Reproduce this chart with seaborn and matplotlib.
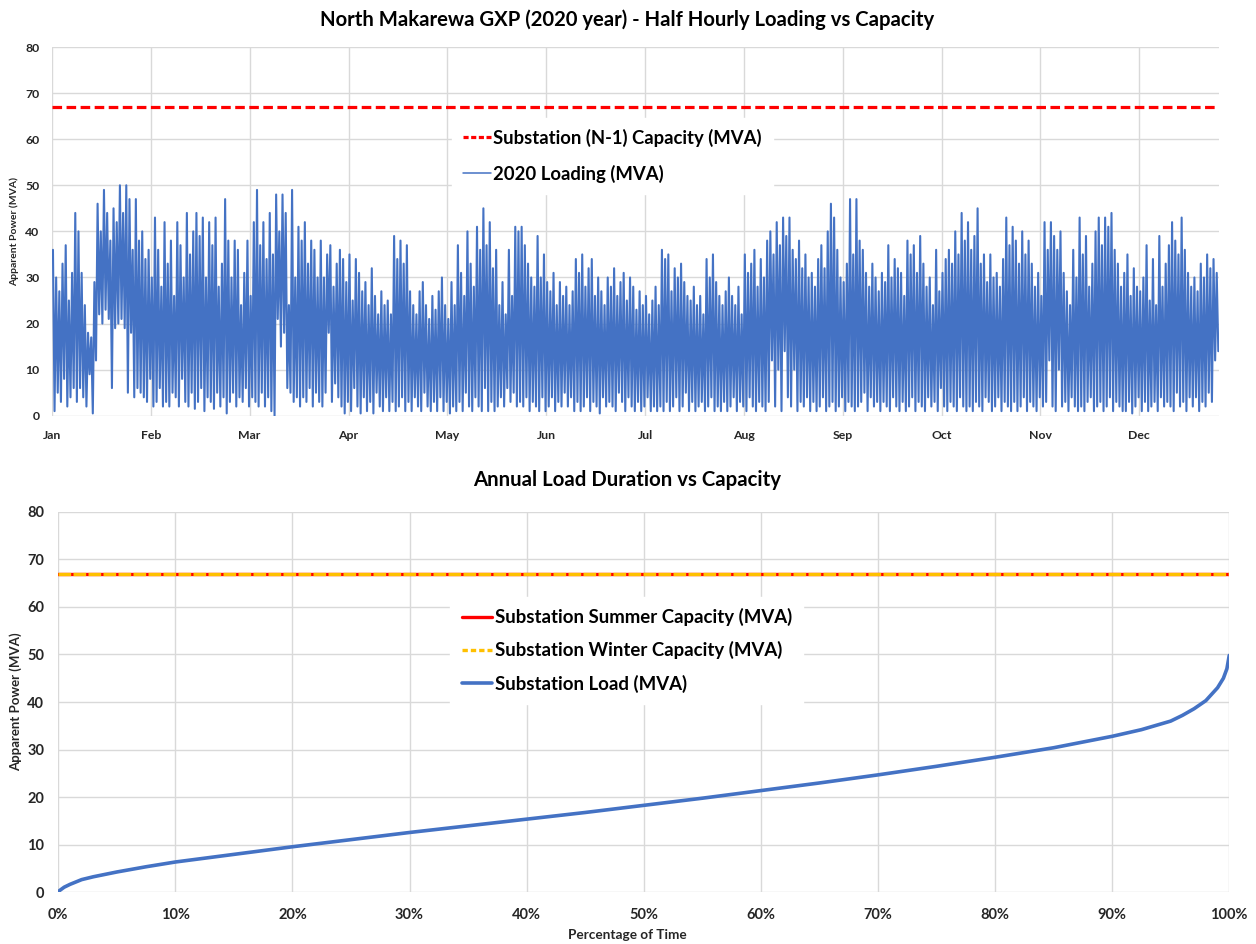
import numpy as np
import pandas as pd
import matplotlib
matplotlib.use("Agg")
import matplotlib.pyplot as plt
import matplotlib.dates as mdates
from matplotlib.ticker import PercentFormatter, MultipleLocator
from matplotlib.lines import Line2D
import seaborn as sns

# ---------------------------------------------------------------- text
TITLE_TOP = "North Makarewa GXP (2020 year) - Half Hourly Loading vs Capacity"
TITLE_BOTTOM = "Annual Load Duration vs Capacity"
Y_LABEL = "Apparent Power (MVA)"
X_LABEL_BOTTOM = "Percentage of Time"
LEG_N1 = "Substation (N-1) Capacity (MVA)"
LEG_LOADING = "2020 Loading (MVA)"
LEG_SUMMER = "Substation Summer Capacity (MVA)"
LEG_WINTER = "Substation Winter Capacity (MVA)"
LEG_LOAD = "Substation Load (MVA)"

# ---------------------------------------------------------------- data
YEAR_START = "2020-01-01"
YEAR_END = "2021-01-01"
N1_CAPACITY = 67.0
SUMMER_CAPACITY = 67.0
WINTER_CAPACITY = 67.0

# daily high (MVA) of the half-hourly loading, one row per week
DAILY_PEAK = [
    36, 30, 27, 33, 37, 25, 31,
    44, 40, 31, 24, 18, 17, 29,
    46, 40, 49, 44, 38, 45, 42,
    50, 44, 50, 47, 36, 47, 38,
    40, 34, 36, 30, 43, 36, 28,
    42, 33, 38, 26, 42, 37, 30,
    44, 35, 40, 44, 39, 43, 30,
    42, 37, 43, 28, 33, 47, 38,
    30, 38, 36, 24, 31, 38, 26,
    42, 49, 37, 42, 34, 44, 35,
    48, 40, 48, 44, 24, 49, 30,
    41, 38, 42, 33, 38, 36, 30,
    38, 30, 35, 37, 28, 33, 36,
    34, 29, 35, 25, 34, 31, 27,
    29, 24, 32, 26, 22, 27, 24,
    25, 22, 39, 34, 38, 33, 37,
    27, 24, 22, 27, 29, 24, 21,
    26, 23, 27, 30, 24, 21, 29,
    24, 37, 31, 26, 40, 33, 28,
    41, 36, 45, 37, 42, 32, 36,
    24, 29, 22, 36, 26, 41, 40,
    41, 37, 33, 30, 28, 39, 30,
    35, 29, 27, 31, 24, 29, 26,
    28, 24, 27, 34, 31, 35, 28,
    32, 34, 26, 30, 27, 24, 30,
    28, 32, 26, 29, 31, 25, 30,
    28, 23, 27, 24, 26, 22, 25,
    28, 24, 36, 34, 35, 27, 32,
    30, 33, 29, 26, 25, 28, 24,
    26, 22, 34, 30, 35, 29, 26,
    24, 27, 30, 26, 24, 28, 22,
    35, 31, 33, 36, 28, 34, 30,
    38, 40, 35, 42, 37, 43, 39,
    43, 36, 34, 38, 32, 35, 30,
    31, 28, 34, 37, 32, 40, 46,
    43, 36, 30, 29, 33, 47, 35,
    47, 38, 36, 31, 28, 33, 30,
    27, 31, 29, 37, 30, 34, 32,
    31, 26, 38, 35, 37, 31, 39,
    33, 28, 30, 24, 36, 27, 31,
    34, 36, 33, 40, 35, 44, 38,
    42, 36, 39, 45, 33, 35, 29,
    35, 30, 31, 28, 34, 43, 37,
    41, 38, 33, 40, 35, 38, 33,
    28, 31, 26, 42, 36, 42, 39,
    36, 40, 31, 27, 24, 36, 30,
    43, 35, 39, 28, 33, 40, 43,
    37, 43, 41, 44, 36, 33, 28,
    31, 35, 26, 32, 28, 27, 30,
    37, 25, 34, 24, 39, 28, 33,
    37, 42, 38, 35, 43, 36, 31,
    28, 30, 27, 33, 30, 35, 32,
    34, 31,
]

# daily low (MVA) of the half-hourly loading, one row per week
DAILY_TROUGH = [
    1, 5, 3, 8, 2, 4, 6,
    3, 6, 4, 2, 9, 0.5, 12,
    22, 20, 23, 21, 6, 19, 20,
    21, 19, 5, 18, 4, 6, 5,
    4, 3, 8, 2, 3, 6, 2,
    3, 2, 5, 4, 2, 8, 3,
    2, 5, 1.5, 3, 6, 1, 4,
    3, 1.5, 5, 2, 4, 0.5, 3,
    5, 2, 4, 3, 6, 2, 4,
    3, 2, 5, 2, 4, 1, 0,
    21, 15, 18, 6, 5, 3, 4,
    2, 4, 3, 6, 2, 5, 3,
    2, 5, 18, 3, 7, 4, 2,
    0.5, 3, 1, 6, 2, 0.5, 4,
    1, 3, 0.5, 5, 2, 1, 4,
    1, 3, 1, 2, 4, 1, 3,
    1, 4, 2, 1, 5, 2, 1,
    3, 1, 4, 1, 3, 0.5, 2,
    1, 3, 1, 5, 2, 1, 4,
    2, 1, 6, 1, 3, 1, 2,
    4, 2, 6, 3, 5, 2, 3,
    2, 4, 1, 3, 2, 1, 4,
    1, 2, 4, 1, 3, 2, 5,
    2, 4, 1, 3, 1, 2, 4,
    1, 3, 2, 0.5, 4, 2, 3,
    2, 1, 5, 3, 1, 4, 2,
    1, 3, 1, 2, 4, 1, 2,
    1, 2, 1, 3, 1, 2, 4,
    1, 2, 5, 1, 3, 1, 2,
    3, 1, 2, 4, 1, 2, 1,
    3, 1, 2, 4, 1, 3, 2,
    1, 4, 2, 1, 3, 2, 1,
    3, 12, 2, 10, 1, 14, 4,
    2, 10, 1, 3, 2, 4, 1,
    3, 1, 2, 4, 1, 2, 3,
    1, 2, 4, 1, 3, 2, 1,
    2, 3, 5, 1, 4, 2, 3,
    1, 3, 2, 1, 4, 2, 1,
    3, 1, 2, 4, 1, 3, 2,
    1, 4, 2, 3, 1, 6, 2,
    1, 3, 2, 1, 4, 2, 1,
    2, 1, 3, 2, 1, 4, 3,
    1, 2, 4, 1, 3, 2, 1,
    3, 1, 2, 4, 1, 3, 2,
    1, 4, 2, 3, 12, 2, 1,
    10, 2, 3, 1, 4, 2, 1,
    2, 1, 3, 4, 1, 2, 3,
    1, 2, 4, 1, 3, 2, 1,
    1, 3, 0.5, 2, 4, 1, 3,
    1, 2, 3, 1, 4, 2, 3,
    2, 1, 5, 2, 3, 1, 4,
    2, 4, 1, 3, 2, 5, 3,
    12, 14,
]

# load duration curve: share of time (%) vs sorted load (MVA)
DURATION_PCT = [0, 0.5, 1, 2, 3, 5, 7.5, 10, 15, 20, 25, 30, 35, 40, 45,
                50, 55, 60, 65, 70, 75, 80, 85, 90, 92.5, 95, 96, 97, 98,
                99, 99.5, 99.8, 100]
DURATION_MVA = [0.2, 1.1, 1.7, 2.7, 3.3, 4.3, 5.4, 6.4, 8.0, 9.6, 11.1, 12.6,
                14.0, 15.4, 16.8, 18.3, 19.8, 21.4, 23.0, 24.7, 26.5, 28.4,
                30.4, 32.8, 34.2, 36.0, 37.2, 38.6, 40.3, 43.0, 45.0, 47.0,
                49.8]

# ---------------------------------------------------------------- style
BLUE = "#4472C4"
RED = "#FF0000"
ORANGE = "#FFC000"
GRID = "#D9D9D9"

sns.set_theme(style="white")
plt.rcParams["font.family"] = ["Lato", "DejaVu Sans"]
plt.rcParams["font.weight"] = "bold"
plt.rcParams["axes.labelweight"] = "bold"
plt.rcParams["text.color"] = "black"

fig = plt.figure(figsize=(12.56, 9.44), dpi=100)
ax1 = fig.add_axes([0.0414, 0.5596, 0.9291, 0.3906])
ax2 = fig.add_axes([0.0464, 0.0546, 0.9323, 0.4034])

# ---------------------------------------------------------------- top: half-hourly loading
start = pd.Timestamp(YEAR_START)
rows = []
for d, (hi, lo) in enumerate(zip(DAILY_PEAK, DAILY_TROUGH)):
    rows.append((start + pd.Timedelta(days=d + 0.30), hi))
    rows.append((start + pd.Timedelta(days=d + 0.80), lo))
loading = pd.DataFrame(rows, columns=["time", "mva"])

sns.lineplot(data=loading, x="time", y="mva", ax=ax1, color=BLUE,
             linewidth=1.5, estimator=None, legend=False)
ax1.axhline(N1_CAPACITY, color=RED, linewidth=2.3,
            linestyle=(0, (3.0, 1.4)), dash_capstyle="butt")

ax1.set_xlim(start, pd.Timestamp(YEAR_END))
ax1.set_ylim(0, 80)
ax1.yaxis.set_major_locator(MultipleLocator(10))
ax1.set_xticks([start + pd.Timedelta(days=31 * k) for k in range(12)])
ax1.xaxis.set_major_formatter(mdates.DateFormatter("%b"))
ax1.set_xlabel("")
ax1.set_ylabel(Y_LABEL, fontsize=7.5, fontweight="bold")
ax1.yaxis.set_label_coords(-0.028, 0.5)
ax1.tick_params(axis="y", labelsize=8.8, length=0, pad=9)
ax1.tick_params(axis="x", labelsize=8.8, length=0, pad=10)
ax1.grid(True, color=GRID, linewidth=1.0)
for s in ax1.spines.values():
    s.set_visible(False)
for lab in ax1.get_xticklabels() + ax1.get_yticklabels():
    lab.set_fontweight("bold")

h1 = [Line2D([], [], color=RED, linewidth=2.3, linestyle=(0, (1.6, 0.8))),
      Line2D([], [], color=BLUE, linewidth=1.1)]
leg1 = ax1.legend(h1, [LEG_N1, LEG_LOADING], loc="center",
                  bbox_to_anchor=(0.4875, 0.835), bbox_transform=fig.transFigure,
                  frameon=True, framealpha=1, edgecolor="white", fancybox=False,
                  fontsize=13.3, handlelength=1.55, handletextpad=0.12,
                  labelspacing=0.95, borderpad=0.6, borderaxespad=0)
for t in leg1.get_texts():
    t.set_fontweight("bold")

# ---------------------------------------------------------------- bottom: load duration
duration = pd.DataFrame({"pct": DURATION_PCT, "mva": DURATION_MVA})
ax2.axhline(SUMMER_CAPACITY, color=RED, linewidth=2.4)
ax2.axhline(WINTER_CAPACITY, color=ORANGE, linewidth=2.4,
            linestyle=(0, (3.8, 0.7)), dash_capstyle="butt")
sns.lineplot(data=duration, x="pct", y="mva", ax=ax2, color=BLUE,
             linewidth=2.6, estimator=None, legend=False)

ax2.set_xlim(0, 100)
ax2.set_ylim(0, 80)
ax2.xaxis.set_major_locator(MultipleLocator(10))
ax2.yaxis.set_major_locator(MultipleLocator(10))
ax2.xaxis.set_major_formatter(PercentFormatter(xmax=100, decimals=0))
ax2.set_xlabel(X_LABEL_BOTTOM, fontsize=9.8, fontweight="bold")
ax2.xaxis.set_label_coords(0.486, -0.096)
ax2.set_ylabel(Y_LABEL, fontsize=9.5, fontweight="bold")
ax2.yaxis.set_label_coords(-0.031, 0.5)
ax2.tick_params(axis="y", labelsize=10.5, length=0, pad=10)
ax2.tick_params(axis="x", labelsize=10.5, length=0, pad=11)
ax2.grid(True, color=GRID, linewidth=1.0)
for s in ax2.spines.values():
    s.set_visible(False)
for lab in ax2.get_xticklabels() + ax2.get_yticklabels():
    lab.set_fontweight("bold")

h2 = [Line2D([], [], color=RED, linewidth=2.4),
      Line2D([], [], color=ORANGE, linewidth=2.4, linestyle=(0, (1.6, 0.9))),
      Line2D([], [], color=BLUE, linewidth=2.6)]
leg2 = ax2.legend(h2, [LEG_SUMMER, LEG_WINTER, LEG_LOAD], loc="center",
                  bbox_to_anchor=(0.499, 0.311), bbox_transform=fig.transFigure,
                  frameon=True, framealpha=1, edgecolor="white", fancybox=False,
                  fontsize=13.4, handlelength=1.65, handletextpad=0.12,
                  labelspacing=0.82, borderpad=0.6, borderaxespad=0)
for t in leg2.get_texts():
    t.set_fontweight("bold")

# ---------------------------------------------------------------- titles
fig.text(0.4996, 0.9788, TITLE_TOP, ha="center", va="center",
         fontsize=14.6, fontweight="bold")
fig.text(0.4992, 0.4915, TITLE_BOTTOM, ha="center", va="center",
         fontsize=14.7, fontweight="bold")

fig.savefig("out.png", dpi=100, facecolor="white")
